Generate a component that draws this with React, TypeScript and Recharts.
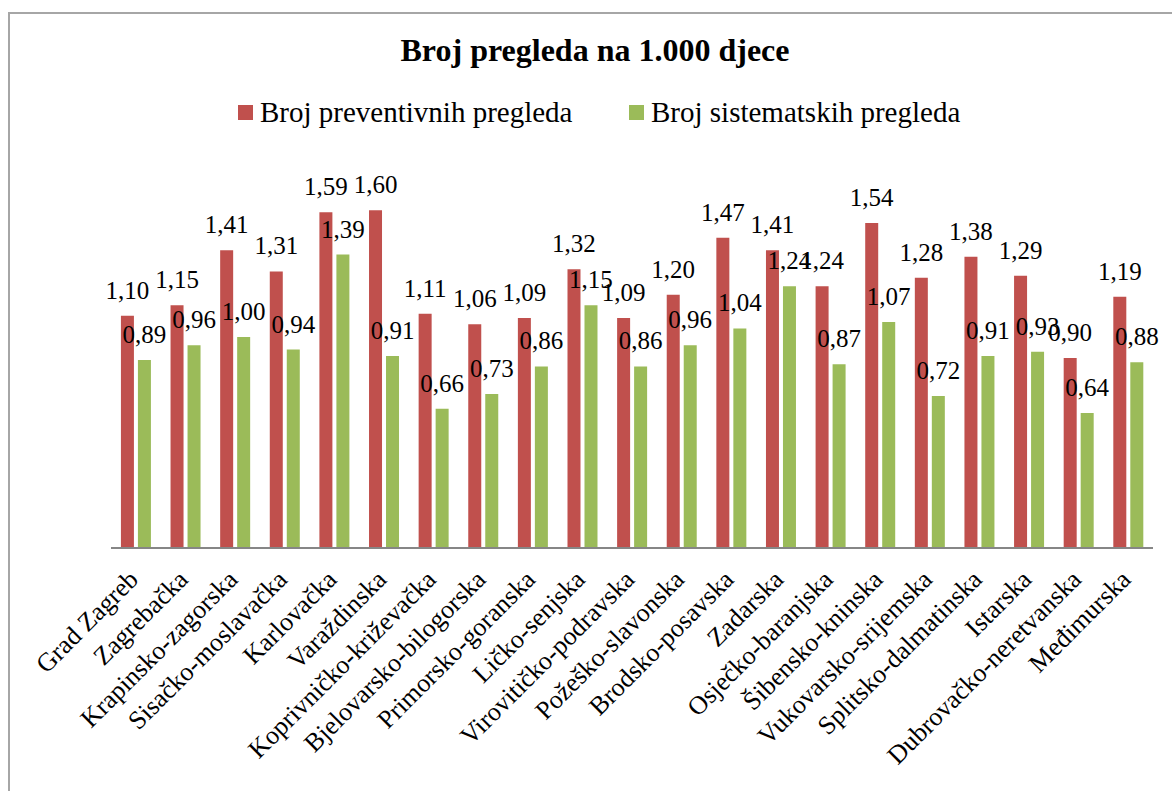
import { BarChart, Bar, XAxis, YAxis, LabelList } from 'recharts';

const title = 'Broj pregleda na 1.000 djece';

const regions = [
  'Grad Zagreb',
  'Zagrebačka',
  'Krapinsko-zagorska',
  'Sisačko-moslavačka',
  'Karlovačka',
  'Varaždinska',
  'Koprivničko-križevačka',
  'Bjelovarsko-bilogorska',
  'Primorsko-goranska',
  'Ličko-senjska',
  'Virovitičko-podravska',
  'Požeško-slavonska',
  'Brodsko-posavska',
  'Zadarska',
  'Osječko-baranjska',
  'Šibensko-kninska',
  'Vukovarsko-srijemska',
  'Splitsko-dalmatinska',
  'Istarska',
  'Dubrovačko-neretvanska',
  'Međimurska',
];

const preventivni = [1.1, 1.15, 1.41, 1.31, 1.59, 1.6, 1.11, 1.06, 1.09, 1.32, 1.09, 1.2, 1.47, 1.41, 1.24, 1.54, 1.28, 1.38, 1.29, 0.9, 1.19];
const sistematski = [0.89, 0.96, 1.0, 0.94, 1.39, 0.91, 0.66, 0.73, 0.86, 1.15, 0.86, 0.96, 1.04, 1.24, 0.87, 1.07, 0.72, 0.91, 0.93, 0.64, 0.88];

const seriesNames = ['Broj preventivnih pregleda', 'Broj sistematskih pregleda'];
const seriesColors = ['#C0504D', '#9BBB59'];

const data = regions.map((name, i) => ({
  name,
  preventivni: preventivni[i],
  sistematski: sistematski[i],
}));

const FONT = "'Liberation Serif', 'Times New Roman', serif";

const fmt = (v: any) => Number(v).toFixed(2).replace('.', ',');

function RegionTick({ x, y, payload }: any) {
  return (
    <g transform={`translate(${x + 4},${y + 33})`}>
      <text transform="rotate(-45)" textAnchor="end" style={{ fontFamily: FONT, fontSize: 26 }} fill="#000">
        {payload.value}
      </text>
    </g>
  );
}

function ValueLabel({ x, y, width, value }: any) {
  return (
    <text
      x={x + width / 2}
      y={y - 17}
      textAnchor="middle"
      style={{ fontFamily: FONT, fontSize: 25 }}
      fill="#000"
    >
      {fmt(value)}
    </text>
  );
}

export default function App() {
  return (
    <div
      style={{
        position: 'fixed',
        left: 8,
        top: 12,
        width: 1164,
        height: 779,
        overflow: 'hidden',
        background: '#fff',
        fontFamily: FONT,
      }}
    >
      <div
        style={{
          position: 'absolute',
          left: 0,
          top: 0,
          width: 1200,
          height: 820,
          border: '2px solid #a6a6a6',
          boxSizing: 'border-box',
        }}
      />
      <svg width={1164} height={140} style={{ position: 'absolute', left: 0, top: 0 }}>
        <text x={587} y={49} textAnchor="middle" fill="#000" style={{ fontFamily: FONT, fontSize: 32, fontWeight: 'bold' }}>
          {title}
        </text>
        {seriesNames.map((n, i) => (
          <g key={n} transform={`translate(${i === 0 ? 230 : 621},0)`}>
            <rect x={0} y={93} width={15} height={15} fill={seriesColors[i]} />
            <text x={22} y={110} fill="#000" style={{ fontFamily: FONT, fontSize: 29 }}>
              {n}
            </text>
          </g>
        ))}
      </svg>
      <BarChart
        width={1164}
        height={779}
        data={data}
        margin={{ top: 156, right: 19, left: 103, bottom: 43 }}
        barCategoryGap="20%"
        barGap={4}
      >
        <XAxis
          dataKey="name"
          height={200}
          interval={0}
          tickLine={false}
          tickSize={0}
          tickMargin={0}
          axisLine={{ stroke: '#868686', strokeWidth: 2 }}
          tick={<RegionTick />}
        />
        <YAxis hide domain={[0, 1.8]} />
        <Bar dataKey="preventivni" name={seriesNames[0]} fill={seriesColors[0]} isAnimationActive={false}>
          <LabelList dataKey="preventivni" content={<ValueLabel />} />
        </Bar>
        <Bar dataKey="sistematski" name={seriesNames[1]} fill={seriesColors[1]} isAnimationActive={false}>
          <LabelList dataKey="sistematski" content={<ValueLabel />} />
        </Bar>
      </BarChart>
    </div>
  );
}
